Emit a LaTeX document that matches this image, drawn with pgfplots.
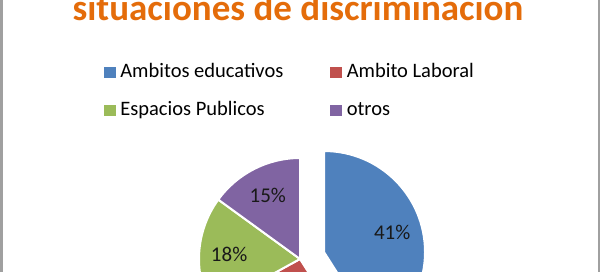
\documentclass[border=0pt]{standalone}
\usepackage{fontspec}
\setmainfont{Carlito}
\usepackage{pgfplots}
\pgfplotsset{compat=1.18}
\definecolor{cblue}{HTML}{4F81BD}
\definecolor{cred}{HTML}{C0504D}
\definecolor{cgreen}{HTML}{9BBB59}
\definecolor{cpurple}{HTML}{8064A2}
\definecolor{ctitle}{HTML}{E46C0A}
\definecolor{cframe}{HTML}{A0A0A0}
\newcommand\labelfont{\fontsize{21}{25}\selectfont}
\begin{document}
\begin{tikzpicture}
\path[use as bounding box] (0,0) rectangle (600pt,272pt);
\clip (0,0) rectangle (600pt,272pt);
\begin{axis}[x=1pt,y=1pt,xmin=0,xmax=600,ymin=0,ymax=272,hide axis,
  at={(0,0)},anchor=south west,clip=false,
  legend columns=2, legend cell align=left,
  legend style={at={(0.1733,0.770)}, anchor=north west, draw=none, fill=none,
    inner sep=0pt, outer sep=0pt,
    font=\fontsize{20.5}{24}\selectfont, text=black,
    nodes={inner sep=0pt, text height=15pt, text depth=5pt},
    column sep=5pt, row sep=18pt,
    /tikz/every even column/.append style={column sep=47pt}}]
\addlegendimage{legend image code/.code={\fill[cblue] (0pt,-5pt) rectangle (11pt,5pt);}}
\addlegendentry{Ambitos educativos}
\addlegendimage{legend image code/.code={\fill[cred] (0pt,-5pt) rectangle (11pt,5pt);}}
\addlegendentry{Ambito Laboral}
\addlegendimage{legend image code/.code={\fill[cgreen] (0pt,-5pt) rectangle (11pt,5pt);}}
\addlegendentry{Espacios Publicos}
\addlegendimage{legend image code/.code={\fill[cpurple] (0pt,-5pt) rectangle (11pt,5pt);}}
\addlegendentry{otros}
\foreach \v/\col/\off [remember=\e as \s (initially 90), evaluate=\v as \e using \s-3.6*\v, evaluate=\v as \m using \s-1.8*\v] in {41/cblue/25,26/cred/0,18/cgreen/0,15/cpurple/0}{
  \edef\temp{\noexpand\filldraw[fill=\col,draw=white,line width=2pt] (axis cs:300,13) ++(\m:\off pt) -- ++(\s:101pt) arc[start angle=\s,end angle=\e,radius=101pt] -- cycle;
  \noexpand\path (axis cs:300,13) ++(\m:\off pt) ++(\m:71pt) node[font=\noexpand\labelfont,text=black!90]{\v\noexpand\%};}
  \temp
}
\end{axis}
\node[anchor=base, font=\fontsize{37}{42}\selectfont\bfseries, text=ctitle] at (298pt,251pt) {situaciones de discriminación};
\draw[cframe, line width=2.5pt] (1.25pt,0) -- (1.25pt,272pt);
\draw[cframe, line width=2.5pt] (598.75pt,0) -- (598.75pt,272pt);
\end{tikzpicture}
\end{document}
